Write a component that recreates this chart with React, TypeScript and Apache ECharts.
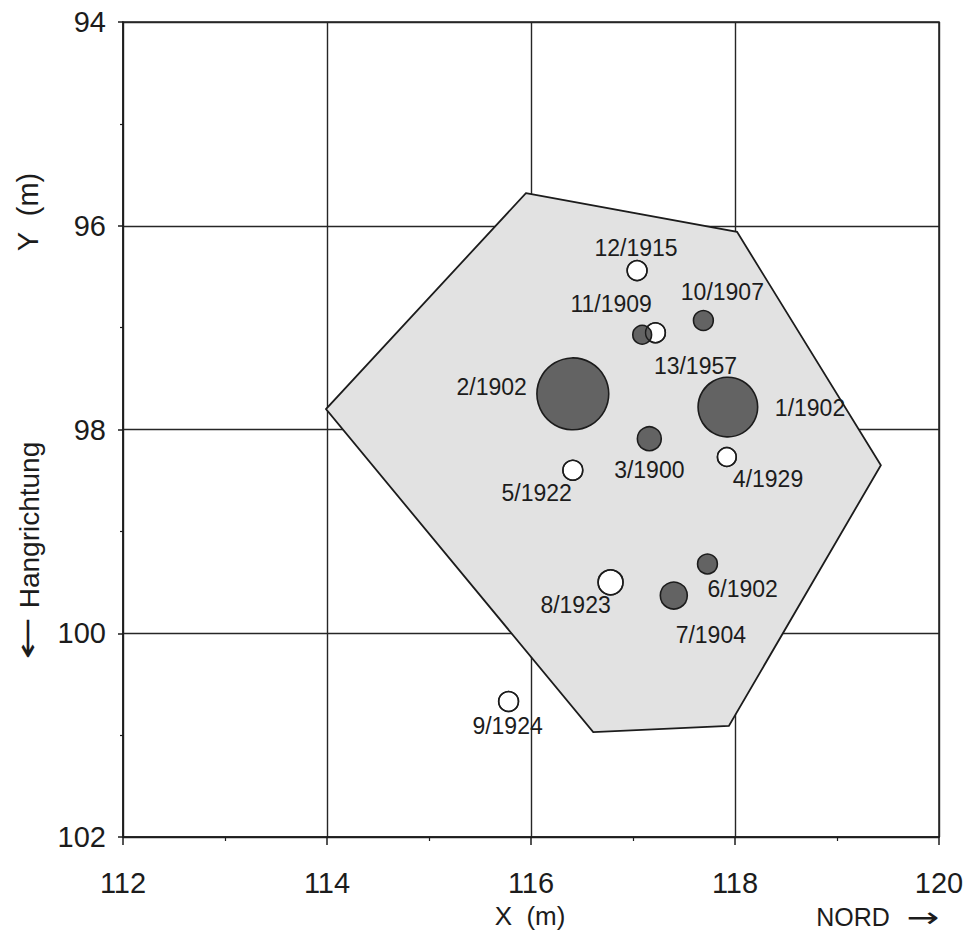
import React, { useEffect, useRef } from "react";
import * as echarts from "echarts";

// Tree positions (X, Y in metres), crown size (diameter, m) and labels
const TREE_ID = ["1", "2", "3", "4", "5", "6", "7", "8", "9", "10", "11", "12", "13"];
const TREE_YEAR = ["1902", "1902", "1900", "1929", "1922", "1902", "1904", "1923", "1924", "1907", "1909", "1915", "1957"];
const TREE_X = [117.93, 116.41, 117.16, 117.92, 116.41, 117.73, 117.4, 116.78, 115.78, 117.69, 117.09, 117.04, 117.22];
const TREE_Y = [97.78, 97.65, 98.09, 98.27, 98.4, 99.32, 99.63, 99.5, 100.67, 96.93, 97.07, 96.44, 97.05];
const TREE_SIZE = [0.6, 0.72, 0.25, 0.2, 0.21, 0.21, 0.28, 0.26, 0.21, 0.21, 0.2, 0.21, 0.21];
const TREE_SHADED = [true, true, true, false, false, true, true, false, false, true, true, false, false];

// Outline of the stand area
const AREA_X = [115.95, 118.02, 119.43, 117.94, 116.61, 113.99];
const AREA_Y = [95.68, 96.06, 98.35, 100.91, 100.97, 97.8];

// Axis ticks
const X_TICKS = [112, 114, 116, 118, 120];
const Y_TICKS = [94, 96, 98, 100, 102];

// Label placement relative to each marker: [dx px, dy px, align]
const LABEL_PLACE: [number, number, string][] = [
  [47, 1, "left"],
  [-46, -7, "right"],
  [0, 31, "center"],
  [6, 22, "left"],
  [-1, 23, "right"],
  [0, 25, "left"],
  [37, 39, "center"],
  [-35, 23, "center"],
  [-1, 24, "center"],
  [19, -28, "center"],
  [-31, -31, "center"],
  [-1, -23, "center"],
  [40, 33, "center"],
];

const FONT = "'Liberation Sans', Arial, Helvetica, sans-serif";
const ARROW_FONT = "'DejaVu Sans', sans-serif";
const INK = "#1c1c1c";

export default function App() {
  const ref = useRef<HTMLDivElement>(null);

  useEffect(() => {
    document.body.style.margin = "0";
    if (!ref.current) return;
    const chart = echarts.init(ref.current, undefined, { renderer: "svg" });

    const treeData = TREE_ID.map((_, i) => [TREE_X[i], TREE_Y[i], TREE_SIZE[i], i]);
    // open markers first so shaded ones sit on top of them
    const markerOrder = treeData
      .slice()
      .sort((a, b) => Number(TREE_SHADED[a[3] as number]) - Number(TREE_SHADED[b[3] as number]));
    const openOnly = treeData.filter((d) => !TREE_SHADED[d[3] as number]);
    const areaData = AREA_X.map((x, i) => [x, AREA_Y[i]]);

    const circleOf = (api: any) => {
      const c = api.coord([api.value(0), api.value(1)]);
      const r = Math.abs(api.size([api.value(2), 0])[0]) / 2;
      return { c, r };
    };

    const axisCommon = {
      type: "value" as const,
      interval: 2,
      axisLine: { show: true, lineStyle: { color: INK, width: 1.5 } },
      axisTick: { show: true, lineStyle: { color: INK, width: 1.5 } },
      minorTick: { show: true, splitNumber: 2, lineStyle: { color: INK, width: 1.2 } },
      splitLine: { show: true, lineStyle: { color: "#262626", width: 1.4 } },
    };

    chart.setOption({
      animation: false,
      grid: {
        left: 123,
        right: 28,
        top: 22,
        bottom: 98,
        show: true,
        borderColor: INK,
        borderWidth: 1.5,
      },
      xAxis: {
        ...axisCommon,
        min: X_TICKS[0],
        max: X_TICKS[X_TICKS.length - 1],
        axisTick: { ...axisCommon.axisTick, length: 8 },
        minorTick: { ...axisCommon.minorTick, length: 4 },
        axisLabel: { fontSize: 29, color: INK, fontFamily: FONT, margin: 31 },
      },
      yAxis: {
        ...axisCommon,
        inverse: true,
        min: Y_TICKS[0],
        max: Y_TICKS[Y_TICKS.length - 1],
        axisTick: { ...axisCommon.axisTick, length: 5 },
        minorTick: { ...axisCommon.minorTick, length: 3 },
        axisLabel: { fontSize: 29, color: INK, fontFamily: FONT, margin: 17 },
      },
      graphic: [
        {
          type: "text",
          x: 28,
          y: 212,
          rotation: Math.PI / 2,
          style: { text: "Y  (m)", font: `29px ${FONT}`, fill: INK, textAlign: "center", textVerticalAlign: "middle" },
        },
        {
          type: "text",
          x: 29,
          y: 525,
          rotation: Math.PI / 2,
          style: { text: "Hangrichtung", font: `28px ${FONT}`, fill: INK, textAlign: "center", textVerticalAlign: "middle" },
        },
        {
          type: "text",
          x: 28,
          y: 639,
          scaleY: 1.7,
          style: { text: "↓", font: `30px ${ARROW_FONT}`, fill: INK, textAlign: "center", textVerticalAlign: "middle" },
        },
        {
          type: "text",
          x: 530,
          y: 916,
          style: { text: "X  (m)", font: `26px ${FONT}`, fill: INK, textAlign: "center", textVerticalAlign: "middle" },
        },
        {
          type: "text",
          x: 853,
          y: 917,
          style: { text: "NORD", font: `25px ${FONT}`, fill: INK, textAlign: "center", textVerticalAlign: "middle" },
        },
        {
          type: "text",
          x: 923,
          y: 917,
          scaleX: 1.4,
          style: { text: "→", font: `28px ${ARROW_FONT}`, fill: INK, textAlign: "center", textVerticalAlign: "middle" },
        },
      ],
      series: [
        {
          type: "custom",
          name: "area",
          data: areaData,
          encode: { x: 0, y: 1 },
          silent: true,
          renderItem: (params: any, api: any) => {
            if (params.dataIndex !== 0) return null;
            const pts = AREA_X.map((x, i) => api.coord([x, AREA_Y[i]]));
            return {
              type: "polygon",
              shape: { points: pts },
              style: { fill: "#e2e2e2", stroke: INK, lineWidth: 1.8 },
            };
          },
        },
        {
          type: "custom",
          name: "trees",
          data: markerOrder,
          encode: { x: 0, y: 1 },
          silent: true,
          renderItem: (_params: any, api: any) => {
            const { c, r } = circleOf(api);
            const k = api.value(3);
            return {
              type: "circle",
              shape: { cx: c[0], cy: c[1], r: r - 0.8 },
              style: { fill: TREE_SHADED[k] ? "#636363" : "#ffffff", stroke: INK, lineWidth: 1.6 },
            };
          },
        },
        {
          type: "custom",
          name: "open outlines",
          data: openOnly,
          encode: { x: 0, y: 1 },
          silent: true,
          renderItem: (_params: any, api: any) => {
            const { c, r } = circleOf(api);
            return {
              type: "circle",
              shape: { cx: c[0], cy: c[1], r: r - 0.8 },
              style: { fill: "none", stroke: INK, lineWidth: 1.4 },
            };
          },
        },
        {
          type: "custom",
          name: "labels",
          data: treeData,
          encode: { x: 0, y: 1 },
          silent: true,
          renderItem: (_params: any, api: any) => {
            const { c } = circleOf(api);
            const k = api.value(3);
            const [dx, dy, align] = LABEL_PLACE[k];
            return {
              type: "text",
              x: c[0] + dx,
              y: c[1] + dy,
              style: {
                text: `${TREE_ID[k]}/${TREE_YEAR[k]}`,
                font: `23px ${FONT}`,
                fill: INK,
                textAlign: align,
                textVerticalAlign: "middle",
              },
            };
          },
        },
      ],
    });

    return () => chart.dispose();
  }, []);

  return <div ref={ref} style={{ width: 967, height: 935 }} />;
}
